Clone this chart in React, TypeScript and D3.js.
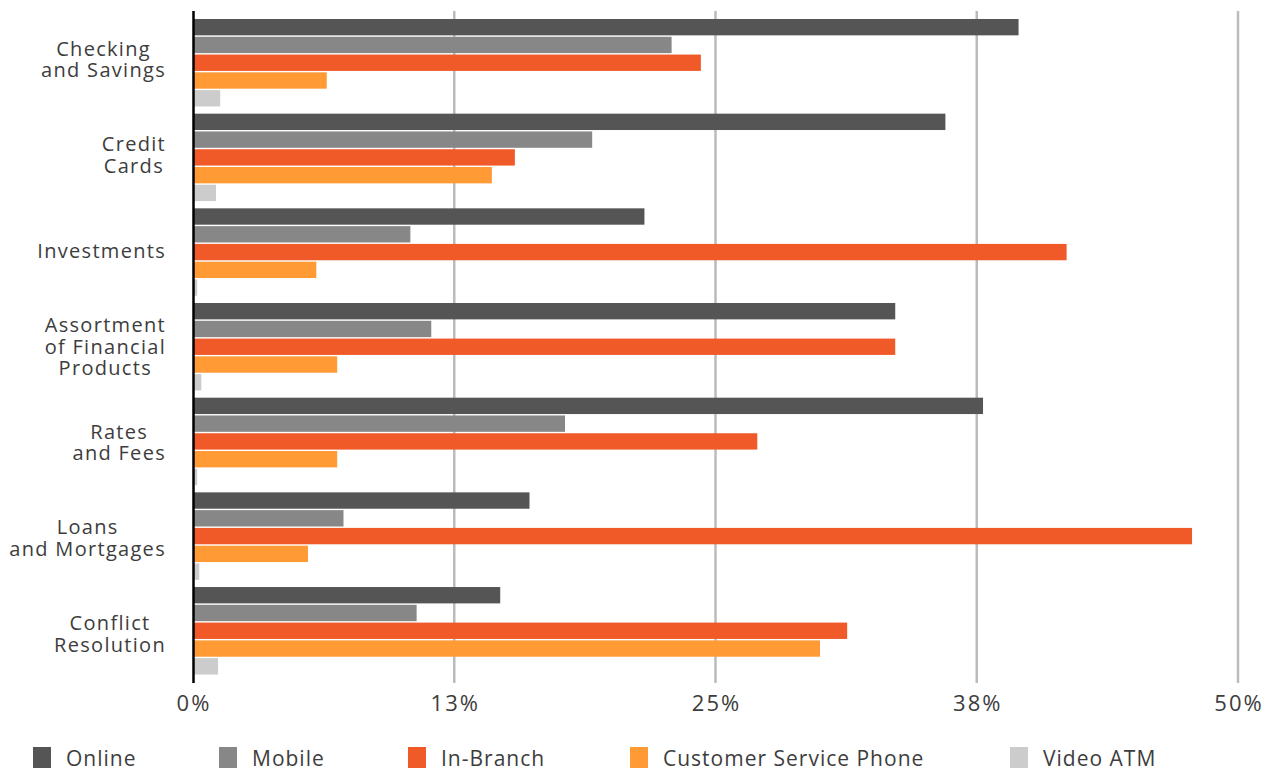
import React from "react";
import * as d3 from "d3";

const categories = [
  ["Checking", "and Savings"],
  ["Credit", "Cards"],
  ["Investments"],
  ["Assortment", "of Financial", "Products"],
  ["Rates", "and Fees"],
  ["Loans", "and Mortgages"],
  ["Conflict", "Resolution"],
];
const seriesNames = ["Online", "Mobile", "In-Branch", "Customer Service Phone", "Video ATM"];
const seriesColors = ["#555555", "#878787", "#F05A28", "#FF9A35", "#CCCCCC"];
const online = [39.5, 36.0, 21.6, 33.6, 37.8, 16.1, 14.7];
const mobile = [22.9, 19.1, 10.4, 11.4, 17.8, 7.2, 10.7];
const inBranch = [24.3, 15.4, 41.8, 33.6, 27.0, 47.8, 31.3];
const phone = [6.4, 14.3, 5.9, 6.9, 6.9, 5.5, 30.0];
const videoAtm = [1.3, 1.1, 0.2, 0.4, 0.2, 0.3, 1.2];
const seriesValues = [online, mobile, inBranch, phone, videoAtm];
const tickValues = [0, 12.5, 25, 37.5, 50];
const tickLabels = ["0%", "13%", "25%", "38%", "50%"];

const W = 1274;
const H = 768;
const FONT = "'Open Sans', sans-serif";
const TEXT = "#3d3d3d";
const LABEL_SIZE = 20;
const LABEL_LS = 1.3;

let ctx: CanvasRenderingContext2D | null = null;
function measure(t: string, size: number, ls: number) {
  if (!ctx) ctx = document.createElement("canvas").getContext("2d");
  if (!ctx) return t.length * (size * 0.55 + ls);
  ctx.font = `${size}px 'Open Sans'`;
  return ctx.measureText(t).width + ls * t.length;
}

export default function App() {
  const x = d3.scaleLinear().domain([0, 50]).range([193, 1238]);
  const catIdx = categories.map((_, i) => String(i));
  const y = d3.scaleBand().domain(catIdx).range([11.8, 681.7]).paddingInner(0.076).paddingOuter(0.076);
  const yLabel = d3.scalePoint().domain(catIdx).range([59.5, 633.7]);
  const yi = d3.scaleBand().domain(seriesNames).range([0, y.bandwidth()]).paddingInner(0.08);
  const legendX = [33, 219, 408, 630, 1010];
  const lineH = 21.6;

  return (
    <svg width={W} height={H} style={{ position: "absolute", left: 0, top: 0, fontFamily: FONT }}>
      <rect width={W} height={H} fill="#fff" />
      {tickValues.slice(1).map((t) => (
        <line key={t} x1={x(t)} x2={x(t)} y1={11} y2={683} stroke="#bbbbbb" strokeWidth={2.5} />
      ))}
      {catIdx.map((c, ci) =>
        seriesNames.map((s, si) => (
          <rect
            key={c + s}
            x={x(0)}
            y={(y(c) as number) + (yi(s) as number)}
            width={x(seriesValues[si][ci]) - x(0)}
            height={yi.bandwidth()}
            fill={seriesColors[si]}
          />
        ))
      )}
      <line x1={193.5} x2={193.5} y1={11} y2={683} stroke="#000" strokeWidth={2.5} />
      {categories.map((lines, ci) => {
        const cy = yLabel(String(ci)) as number;
        const maxW = Math.max(...lines.map((l) => measure(l, LABEL_SIZE, LABEL_LS)));
        const cx = 166 - maxW / 2;
        const n = lines.length;
        return (
          <text key={ci} fontSize={LABEL_SIZE} fill={TEXT} textAnchor="middle" letterSpacing={LABEL_LS}>
            {lines.map((l, li) => (
              <tspan key={li} x={cx} y={cy + (li - (n - 1) / 2) * lineH + 7}>
                {l}
              </tspan>
            ))}
          </text>
        );
      })}
      {tickValues.map((t, i) => (
        <text key={t} x={x(t) + 1} y={711} fontSize={22} fill={TEXT} textAnchor="middle" letterSpacing={2}>
          {tickLabels[i]}
        </text>
      ))}
      {seriesNames.map((s, i) => (
        <g key={s}>
          <rect x={legendX[i]} y={747} width={18} height={21} fill={seriesColors[i]} />
          <text x={legendX[i] + 33} y={765.5} fontSize={21} fill={TEXT} letterSpacing={1}>
            {s}
          </text>
        </g>
      ))}
    </svg>
  );
}
